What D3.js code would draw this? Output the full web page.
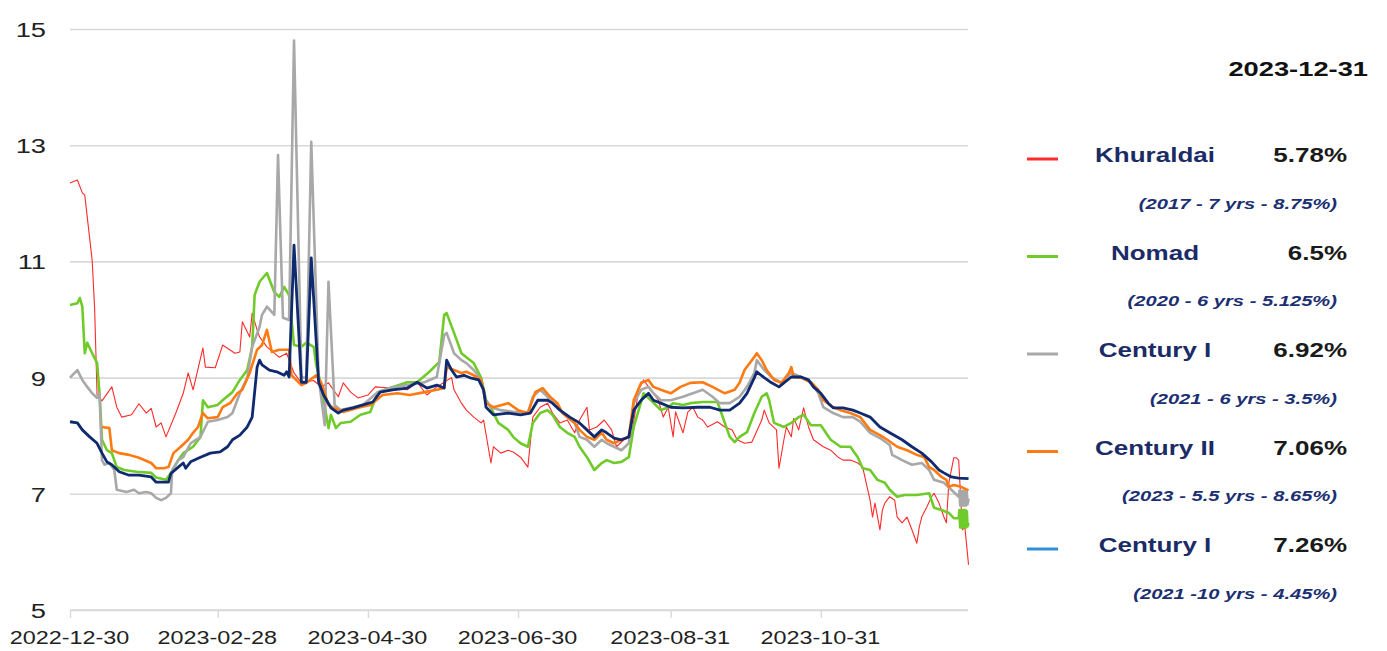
<!DOCTYPE html>
<html>
<head>
<meta charset="utf-8">
<script src="https://cdn.jsdelivr.net/npm/d3@7"></script>
<style>
  body { margin:0; background:#fff; }
  text { font-family: "Liberation Sans", Arial, sans-serif; }
</style>
</head>
<body>
<script>
// each point is [days since 2022-12-30, yield %]
var khuraldai = [[0,12.35],[3,12.40],[5,12.18],[6,12.14],[9,11.02],[10,10.2],[11,8.7],[13,8.6],[17,8.84],[19,8.49],[21,8.32],[25,8.36],[28,8.55],[31,8.39],[33,8.47],[35,8.15],[37,8.22],[39,7.98],[43,8.39],[46,8.73],[48,9.08],[50,8.79],[54,9.51],[55,9.18],[59,9.17],[62,9.56],[67,9.42],[69,9.44],[70,9.96],[73,9.70],[74,10.11],[76,9.82],[77,9.70],[80,9.53],[83,9.42],[85,9.35],[88,9.42],[91,9.08],[94,8.91],[99,8.95],[102,8.84],[105,8.91],[109,8.67],[111,8.91],[114,8.75],[117,8.65],[121,8.70],[124,8.84],[130,8.82],[137,8.79],[141,8.92],[145,8.70],[149,8.84],[152,8.92],[155,9.0],[156,8.79],[159,8.56],[161,8.44],[164,8.32],[167,8.22],[168,8.27],[171,7.53],[172,7.81],[175,7.70],[178,7.75],[180,7.72],[183,7.63],[186,7.46],[188,8.32],[191,8.49],[194,8.56],[196,8.39],[199,8.22],[202,8.27],[205,8.05],[207,8.27],[210,8.49],[211,8.10],[214,8.15],[217,8.27],[220,8.10],[222,7.81],[225,7.93],[228,7.98],[231,8.79],[233,8.96],[235,8.84],[239,8.61],[241,8.32],[243,8.49],[245,7.98],[246,8.41],[249,8.05],[251,8.41],[253,8.49],[255,8.32],[257,8.27],[259,8.15],[263,8.24],[266,8.15],[269,8.10],[271,7.93],[274,7.87],[277,7.89],[281,8.27],[282,8.44],[284,8.22],[287,8.10],[288,7.44],[290,7.93],[291,8.15],[293,7.98],[294,8.30],[296,8.10],[298,8.48],[300,8.15],[302,7.93],[306,7.81],[309,7.75],[312,7.63],[314,7.58],[317,7.58],[320,7.53],[322,7.46],[325,6.89],[326,6.60],[327,6.84],[329,6.38],[330,6.72],[331,6.84],[333,6.95],[335,6.89],[336,6.60],[338,6.50],[340,6.60],[342,6.38],[344,6.15],[345,6.43],[346,6.60],[348,6.77],[350,6.95],[351,7.01],[353,6.84],[355,6.60],[356,6.50],[357,7.19],[359,7.62],[360,7.62],[361,7.58],[362.5,6.38],[363.5,6.43],[365,5.78]];

var nomad = [[0,10.25],[3,10.28],[4,10.37],[5,10.22],[6,9.42],[7,9.60],[9,9.42],[11,9.25],[12,8.73],[13,7.93],[15,7.75],[17,7.70],[19,7.46],[22,7.41],[27,7.38],[33,7.36],[35,7.28],[39,7.24],[41,7.36],[44,7.58],[46,7.70],[50,7.81],[53,7.98],[54,8.61],[56,8.49],[60,8.53],[62,8.61],[66,8.75],[69,8.96],[72,9.13],[74,9.53],[75,10.42],[77,10.65],[80,10.80],[83,10.47],[85,10.39],[87,10.56],[89,10.42],[91,9.56],[94,9.53],[96,9.60],[99,9.53],[100,9.22],[102,8.87],[105,8.13],[106,8.36],[108,8.13],[110,8.22],[114,8.24],[118,8.36],[122,8.41],[125,8.75],[130,8.82],[137,8.92],[141,8.92],[146,9.10],[150,9.27],[152,10.08],[153,10.11],[156,9.77],[159,9.42],[161,9.35],[164,9.25],[167,9.0],[169,8.61],[171,8.48],[174,8.22],[178,8.10],[180,7.98],[183,7.87],[186,7.81],[188,8.22],[191,8.39],[194,8.44],[196,8.36],[199,8.15],[202,8.05],[205,7.98],[207,7.81],[210,7.63],[213,7.41],[216,7.53],[218,7.58],[221,7.53],[224,7.55],[227,7.63],[229,8.15],[231,8.44],[233,8.73],[236,8.61],[240,8.44],[243,8.49],[245,8.56],[249,8.53],[252,8.56],[257,8.58],[260,8.58],[263,8.58],[266,8.22],[268,7.98],[270,7.89],[272,7.98],[275,8.06],[278,8.39],[281,8.67],[283,8.73],[284,8.61],[286,8.22],[290,8.15],[293,8.22],[296,8.32],[298,8.36],[301,8.18],[305,8.18],[309,7.93],[313,7.81],[317,7.81],[320,7.63],[322,7.44],[325,7.41],[328,7.24],[331,7.19],[333,7.07],[336,6.95],[339,6.98],[344,6.98],[349,7.01],[351,6.76],[354,6.72],[357,6.67],[359,6.58],[361,6.58],[361.3,6.72],[361.6,6.42],[361.9,6.72],[362.2,6.42],[362.5,6.72],[362.8,6.42],[363.1,6.72],[363.4,6.42],[363.7,6.72],[364,6.42],[364.3,6.70],[364.6,6.44],[365,6.5]];

var centuryI = [[0,9.0],[3,9.13],[5,8.96],[7,8.84],[9,8.73],[11,8.65],[12,8.73],[13,7.58],[14,7.50],[16,7.53],[18,7.41],[19,7.07],[23,7.03],[26,7.07],[28,7.01],[31,7.03],[33,7.01],[35,6.93],[37,6.89],[39,6.93],[41,7.01],[41.5,7.41],[44,7.58],[46,7.63],[49,7.87],[53,7.98],[56,8.24],[60,8.27],[64,8.32],[66,8.39],[69,8.73],[72,9.0],[74,9.53],[77,9.87],[78,10.08],[80,10.22],[83,10.08],[84.5,12.83],[86.5,10.03],[89,9.99],[91,14.8],[94,9.0],[96,9.0],[98,13.06],[101,9.0],[103.5,8.18],[105,10.65],[107.5,8.53],[110,8.44],[114,8.48],[119,8.53],[125,8.75],[130,8.82],[137,8.87],[144,8.92],[149,9.01],[152,9.73],[153,9.77],[156,9.42],[159,9.30],[161,9.25],[164,9.13],[167,8.96],[169,8.61],[171,8.49],[175,8.44],[180,8.41],[186,8.39],[188,8.67],[191,8.79],[194,8.67],[198,8.49],[202,8.32],[205,8.22],[207,7.98],[210,7.93],[213,7.81],[216,7.93],[218,7.87],[221,7.81],[224,7.75],[227,7.87],[229,8.56],[232,8.79],[235,8.84],[237,8.73],[240,8.61],[244,8.61],[249,8.67],[253,8.73],[257,8.79],[261,8.67],[264,8.56],[268,8.56],[272,8.67],[275,8.84],[278,9.08],[279,9.30],[282,9.13],[285,9.01],[289,8.91],[293,9.08],[297,9.01],[301,8.91],[304,8.73],[306,8.49],[310,8.39],[314,8.32],[318,8.32],[321,8.24],[325,8.05],[329,7.96],[333,7.84],[334,7.67],[338,7.58],[342,7.50],[346,7.53],[349,7.41],[351,7.24],[355,7.19],[358,7.07],[361,6.95],[361.3,7.05],[361.6,6.80],[361.9,7.05],[362.2,6.80],[362.5,7.05],[362.8,6.80],[363.1,7.05],[363.4,6.80],[363.7,7.05],[364,6.80],[364.3,7.03],[364.6,6.82],[365,6.92]];

var centuryII = [[13,8.15],[16,8.13],[17,7.75],[20,7.70],[24,7.67],[28,7.62],[33,7.53],[35,7.44],[38,7.44],[40,7.46],[42,7.70],[45,7.81],[48,7.93],[50,8.05],[52,8.15],[54,8.39],[56,8.30],[60,8.32],[62,8.49],[65,8.56],[68,8.73],[70,8.79],[73,9.08],[76,9.48],[78,9.56],[80,9.82],[82,9.44],[85,9.48],[89,9.48],[90,9.04],[94,8.87],[96,8.91],[100,9.04],[102,8.92],[105,8.53],[107,8.48],[111,8.41],[117,8.48],[122,8.53],[127,8.70],[133,8.73],[138,8.70],[144,8.75],[149,8.79],[152,8.82],[153,9.18],[156,9.13],[159,9.08],[161,9.10],[164,9.04],[167,8.96],[169,8.56],[172,8.49],[178,8.56],[182,8.44],[186,8.39],[189,8.75],[192,8.82],[195,8.67],[198,8.56],[200,8.39],[205,8.22],[207,8.10],[210,7.98],[213,7.93],[216,8.05],[218,7.93],[221,7.87],[224,7.93],[227,7.98],[229,8.61],[232,8.91],[235,8.96],[237,8.84],[240,8.79],[244,8.73],[248,8.84],[252,8.91],[257,8.92],[261,8.84],[266,8.73],[270,8.79],[272,8.91],[274,9.13],[277,9.30],[279,9.42],[281,9.30],[283,9.13],[286,8.96],[289,8.91],[292,9.08],[293,9.18],[294,9.01],[297,9.0],[301,8.92],[304,8.79],[306,8.61],[310,8.49],[313,8.44],[317,8.39],[321,8.32],[325,8.10],[329,8.01],[332,7.93],[336,7.81],[340,7.75],[344,7.67],[347,7.63],[349,7.46],[351,7.41],[354,7.29],[356,7.24],[357,7.12],[359,7.15],[362,7.12],[365,7.06]];

var centuryI10 = [[0,8.24],[3,8.22],[5,8.10],[8,7.98],[11,7.87],[13,7.70],[15,7.55],[17,7.50],[20,7.38],[24,7.32],[28,7.32],[33,7.29],[35,7.20],[38,7.20],[40,7.20],[41,7.35],[44,7.46],[46,7.53],[47,7.44],[49,7.55],[53,7.63],[57,7.70],[61,7.72],[64,7.81],[66,7.93],[69,8.01],[72,8.15],[74,8.32],[76,9.18],[77,9.30],[78,9.22],[81,9.13],[84,9.10],[87,9.04],[88,9.10],[89,9.01],[91,11.28],[94,8.92],[96,8.92],[98,11.06],[101,8.92],[103,8.70],[106,8.48],[109,8.39],[111,8.44],[115,8.48],[119,8.53],[123,8.58],[126,8.75],[131,8.79],[137,8.82],[141,8.92],[145,8.82],[149,8.87],[152,8.82],[153,9.30],[155,9.13],[157,9.01],[160,9.04],[163,8.99],[166,8.96],[168,8.79],[169,8.49],[172,8.36],[178,8.39],[183,8.36],[187,8.39],[190,8.61],[194,8.61],[196,8.56],[199,8.44],[203,8.32],[207,8.22],[210,8.10],[213,7.98],[216,8.10],[218,8.05],[221,7.96],[224,7.93],[227,7.98],[229,8.44],[232,8.61],[235,8.73],[237,8.61],[240,8.56],[244,8.49],[249,8.48],[255,8.49],[260,8.49],[264,8.44],[268,8.44],[272,8.56],[275,8.73],[278,9.0],[279,9.10],[282,9.0],[285,8.91],[288,8.84],[290,8.91],[293,9.01],[297,9.01],[300,8.96],[302,8.84],[305,8.73],[308,8.56],[310,8.48],[314,8.48],[318,8.44],[321,8.39],[325,8.32],[329,8.15],[333,8.05],[338,7.93],[342,7.81],[346,7.70],[350,7.55],[353,7.41],[355,7.36],[358,7.29],[361,7.27],[365,7.26]];

var legendTitle = "2023-12-31";
var legendNames = ["Khuraldai", "Nomad", "Century I", "Century II", "Century I"];
var legendValues = ["5.78%", "6.5%", "6.92%", "7.06%", "7.26%"];
var legendNotes = ["(2017 - 7 yrs - 8.75%)", "(2020 - 6 yrs - 5.125%)", "(2021 - 6 yrs - 3.5%)", "(2023 - 5.5 yrs - 8.65%)", "(2021 -10 yrs - 4.45%)"];
var yTicks = [5, 7, 9, 11, 13, 15];
var xTickLabels = ["2022-12-30", "2023-02-28", "2023-04-30", "2023-06-30", "2023-08-31", "2023-10-31"];
var startDate = "2022-12-30", endDate = "2023-12-31";

var lineColors = ["#ff2a2a", "#6fcb2a", "#a8a8a8", "#ff7a12", "#0f2a6e"];
var legendColors = ["#ff2a2a", "#6fcb2a", "#a8a8a8", "#ff7a12", "#2f8fd8"];
var lineWidths = [1.1, 2.6, 2.6, 2.6, 2.8];
var allSeries = [khuraldai, nomad, centuryI, centuryII, centuryI10];

var width = 1387, height = 651;
var margin = {left:70, top:29, right:419, bottom:41};
var stretch = "scale(1.3,1)";

var svg = d3.select("body").append("svg")
            .attr("width", width)
            .attr("height", height);

var parse = d3.utcParse("%Y-%m-%d");
var t0 = parse(startDate);
var toDate = function(day){ return new Date(t0.getTime() + day*864e5); };

var x = d3.scaleUtc()
          .domain([t0, parse(endDate)])
          .range([margin.left, 971]);
var y = d3.scaleLinear()
          .domain([5, 15])
          .range([height - margin.bottom, margin.top]);

// grid
var yAxis = d3.axisLeft(y).tickValues(yTicks).tickSize(-(968 - margin.left)).tickFormat(d3.format("d"));
var gy = svg.append("g").attr("transform","translate("+margin.left+",0)").call(yAxis);
gy.select(".domain").remove();
gy.selectAll("line").attr("stroke","#d9d9d9").attr("stroke-width",1.6);
gy.selectAll("text")
  .attr("x", null).attr("dy","0.36em")
  .attr("transform","translate(-24,0) "+stretch)
  .attr("fill","#222").style("font-size","21px");

var xAxis = d3.axisBottom(x)
              .tickValues(xTickLabels.map(parse))
              .tickFormat(d3.utcFormat("%Y-%m-%d"))
              .tickSize(8).tickSizeOuter(0);
var gx = svg.append("g").attr("transform","translate(0,"+y(5)+")").call(xAxis);
gx.select(".domain").attr("stroke","#d9d9d9").attr("stroke-width",1.6).attr("d","M"+margin.left+",0H968");
gx.selectAll("line").attr("stroke","#d9d9d9").attr("stroke-width",1.4);
gx.selectAll("text")
  .attr("y", null).attr("dy", null)
  .attr("transform","translate(-1,34) "+stretch)
  .attr("fill","#222").style("font-size","18px");

// lines
var line = d3.line()
             .x(function(d){ return x(toDate(d[0])); })
             .y(function(d){ return y(d[1]); })
             .curve(d3.curveLinear);

svg.append("g").selectAll("path")
   .data(allSeries)
   .enter().append("path")
   .attr("d", line)
   .attr("fill","none")
   .attr("stroke", function(d,i){ return lineColors[i]; })
   .attr("stroke-width", function(d,i){ return lineWidths[i]; })
   .attr("stroke-linejoin","round");

// legend
var legend = svg.append("g");
legend.append("text")
      .attr("transform","translate(1368,68) "+stretch)
      .attr("text-anchor","end").attr("dy","0.36em")
      .style("font-size","21px").style("font-weight","bold")
      .attr("fill","#111")
      .text(legendTitle);

var rowY = function(i){ return 155 + i*97.5; };

legendNames.forEach(function(name, i){
  legend.append("line")
        .attr("x1",1027).attr("x2",1058)
        .attr("y1",rowY(i)+4).attr("y2",rowY(i)+4)
        .attr("stroke", legendColors[i]).attr("stroke-width",3);
  legend.append("text")
        .attr("transform","translate(1155,"+rowY(i)+") "+stretch)
        .attr("text-anchor","middle").attr("dy","0.36em")
        .style("font-size","20px").style("font-weight","bold")
        .attr("fill","#1b2b66")
        .text(name);
  legend.append("text")
        .attr("transform","translate(1347,"+rowY(i)+") "+stretch)
        .attr("text-anchor","end").attr("dy","0.36em")
        .style("font-size","20px").style("font-weight","bold")
        .attr("fill","#1a1a1a")
        .text(legendValues[i]);
  legend.append("text")
        .attr("transform","translate(1337,"+(rowY(i)+48)+") "+stretch)
        .attr("text-anchor","end").attr("dy","0.36em")
        .style("font-size","15.5px").style("font-weight","bold").style("font-style","italic")
        .attr("fill","#1b2f72")
        .text(legendNotes[i]);
});
</script>
</body>
</html>
